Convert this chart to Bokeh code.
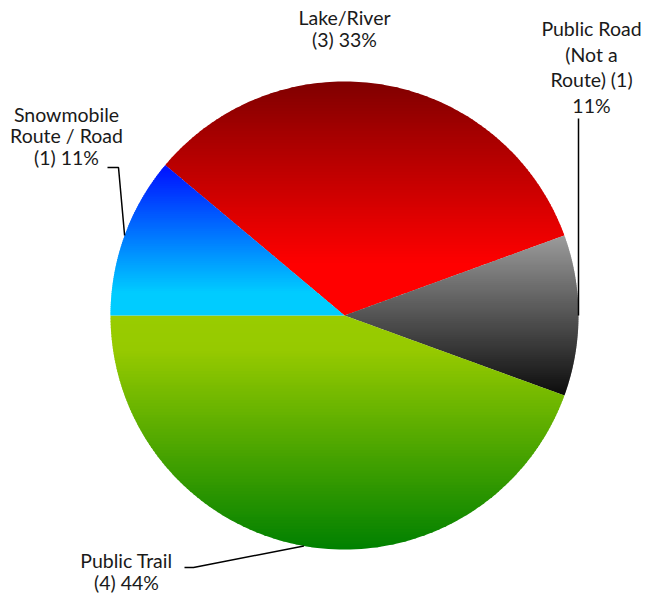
import numpy as np
from bokeh.plotting import figure
from bokeh.models import Range1d
from bokeh.embed import file_html
from bokeh.resources import INLINE
from bokeh.core.properties import value

# ---------------- data ----------------
categories = ["Lake/River", "Public Road\n(Not a\nRoute)", "Public Trail", "Snowmobile\nRoute / Road"]
counts = [3, 1, 4, 1]

# ---------------- style / layout ----------------
W, H = 650, 601
CX, CY, R = 344.0, 315.0, 234.0
START_DEG = 140.0  # first slice starts here, slices go clockwise
# gradient stops per slice: (fraction of slice height, rgb)
grad_stops = [
    [(0.0, (128, 0, 0)), (0.78, (255, 0, 0)), (1.0, (255, 0, 0))],
    [(0.0, (155, 155, 155)), (1.0, (12, 12, 12))],
    [(0.0, (153, 204, 0)), (0.15, (150, 202, 0)), (1.0, (0, 128, 0))],
    [(0.0, (0, 15, 255)), (0.85, (0, 204, 255)), (1.0, (0, 204, 255))],
]
label_pos = [(344, 28), (591, 66.5), (126, 571), (66, 135.5)]
label_line_h = [0.92, 1.11, 0.96, 0.94]
leader_from = [None, [(578, 118)], [(184, 567), (193, 567)], [(107, 167), (118, 167)]]
FONT = "Lato"
FONT_SIZE = "19.5px"

total = sum(counts)


def lerp_color(stops, t):
    for (t0, c0), (t1, c1) in zip(stops[:-1], stops[1:]):
        if t <= t1:
            f = 0 if t1 == t0 else (t - t0) / (t1 - t0)
            return "#%02x%02x%02x" % tuple(int(round(a + (b - a) * f)) for a, b in zip(c0, c1))
    return "#%02x%02x%02x" % stops[-1][1]


def clip(poly, yb, keep_above):
    out = []
    n = len(poly)
    for i in range(n):
        p1 = poly[i]
        p2 = poly[(i + 1) % n]
        in1 = (p1[1] >= yb) if keep_above else (p1[1] <= yb)
        in2 = (p2[1] >= yb) if keep_above else (p2[1] <= yb)
        if in1:
            out.append(p1)
        if in1 != in2:
            t = (yb - p1[1]) / (p2[1] - p1[1])
            out.append((p1[0] + t * (p2[0] - p1[0]), yb))
    return out


p = figure(width=W, height=H, x_range=Range1d(0, W), y_range=Range1d(H, 0),
           x_axis_type=None, y_axis_type=None, toolbar_location=None,
           output_backend="svg", min_border=0)
p.outline_line_color = None
p.xgrid.visible = False
p.ygrid.visible = False

xs_all, ys_all, cols_all = [], [], []
mid_angles = []
a = START_DEG
for cat, cnt, stops in zip(categories, counts, grad_stops):
    span = 360.0 * cnt / total
    a0, a1 = a, a - span
    mid_angles.append((a0 + a1) / 2)
    angs = np.radians(np.linspace(a0, a1, 120))
    poly = [(CX, CY)] + [(CX + R * np.cos(t), CY - R * np.sin(t)) for t in angs]
    ys = [q[1] for q in poly]
    ymin, ymax = min(ys), max(ys)
    N = 80
    edges = np.linspace(ymin, ymax, N + 1)
    for i in range(N):
        y0, y1 = edges[i], min(edges[i + 1] + 0.8, ymax)
        part = clip(clip(poly, y0, True), y1, False)
        if len(part) < 3:
            continue
        t = (i + 0.5) / N
        xs_all.append([q[0] for q in part])
        ys_all.append([q[1] for q in part])
        cols_all.append(lerp_color(stops, t))
    a = a1

p.patches(xs_all, ys_all, fill_color=cols_all, line_color=None)

# leader lines: from label side to the slice edge at its mid-angle
for frm, mid in zip(leader_from, mid_angles):
    if frm is None:
        continue
    end = (CX + R * np.cos(np.radians(mid)), CY - R * np.sin(np.radians(mid)))
    pts = frm + [end]
    p.line([q[0] for q in pts], [q[1] for q in pts], line_color="black", line_width=1.5)

# labels: "<category> (<count>) <percent>"
for c, n, pos, lh in zip(categories, counts, label_pos, label_line_h):
    pct = f"{round(100 * n / total)}%"
    if c.endswith("Route)"):
        txt = f"{c} ({n})\n{pct}"
    else:
        txt = f"{c}\n({n}) {pct}"
    p.text(x=[pos[0]], y=[pos[1]], text=[txt], text_align="center", text_baseline="middle",
           text_font=value(FONT), text_font_size=FONT_SIZE, text_color="#1a1a1a",
           text_line_height=lh)

open("out.html", "w").write(file_html(p, INLINE))
